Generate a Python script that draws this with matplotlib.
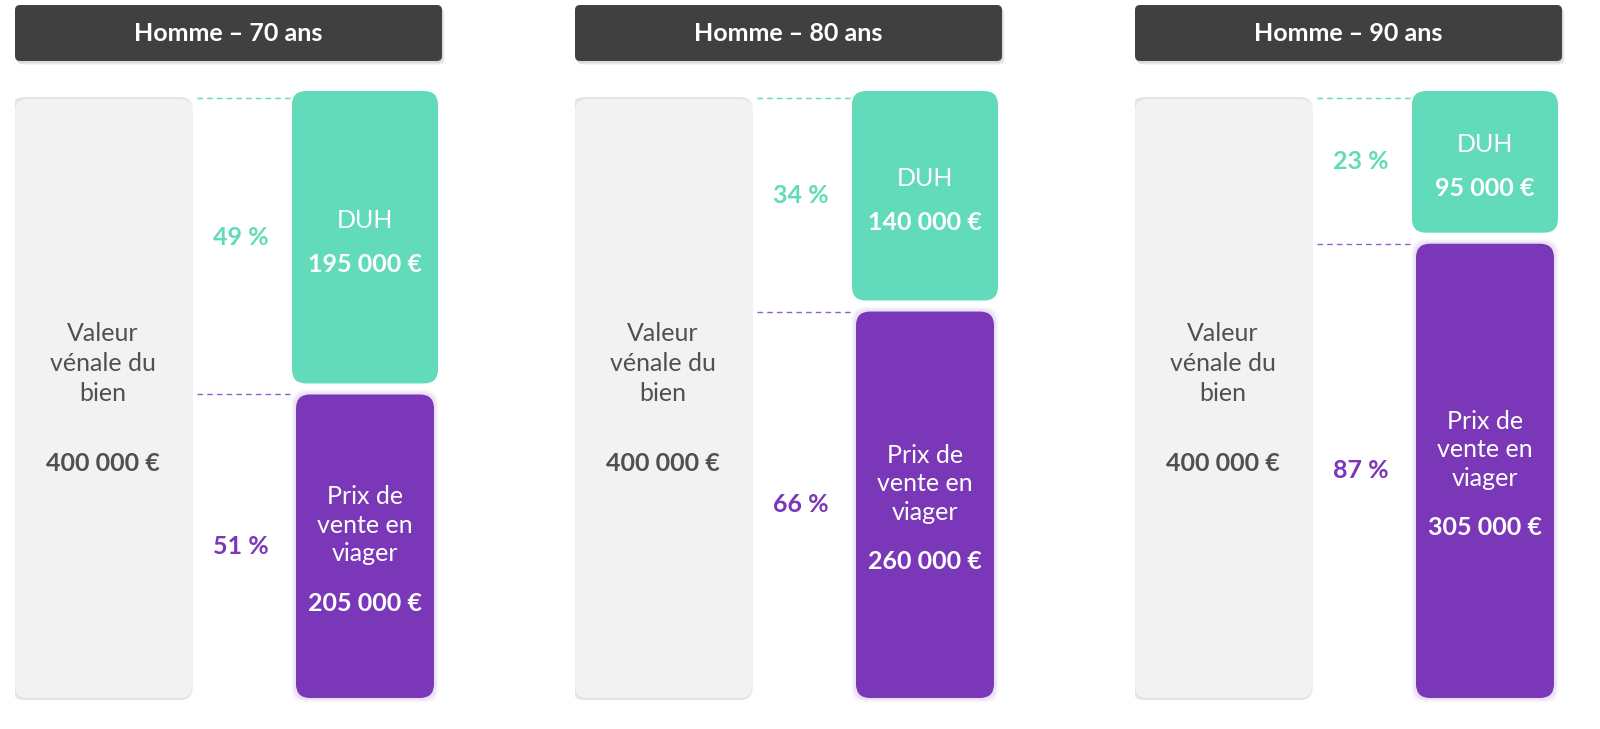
import matplotlib.pyplot as plt
from matplotlib.patches import FancyBboxPatch

# data (k€)
titles = ["Homme – 70 ans", "Homme – 80 ans", "Homme – 90 ans"]
valeur = 400
duh = [195, 140, 95]
viager = [205, 260, 305]
pct_duh = [49, 34, 23]
pct_viager = [51, 66, 87]

GREEN = "#62DBBA"
PURPLE = "#7A38B8"
HEADER = "#404040"
GREY = "#F2F2F2"
TEXT = "#505050"

plt.rcParams["font.family"] = ["Lato", "DejaVu Sans"]

W, H = 1600, 729
fig = plt.figure(figsize=(W / 100, H / 100), dpi=100)


def fmt(v):
    return f"{v} 000 €"


# pixel layout of one panel
top_px, bot_px = 95, 698
u = valeur / (bot_px - top_px)          # value units per pixel
gap = 11 * u
FS = 18


def rbox(ax, x0, y0, w, h, color, r=14, z=2, **kw):
    p = FancyBboxPatch((x0, y0), w, h, boxstyle=f"round,pad=0,rounding_size={r}",
                       mutation_aspect=u, facecolor=color, edgecolor="none", zorder=z, **kw)
    ax.add_patch(p)
    return p


for i in range(3):
    x0 = 15 + 560 * i
    ax = fig.add_axes([x0 / W, 0, 430 / W, 1])
    ax.set_xlim(0, 430)
    ax.set_ylim(-(H - bot_px) * u, valeur + top_px * u)
    ax.axis("off")

    # header
    hy0 = valeur + (top_px - 61) * u
    hy1 = valeur + (top_px - 5) * u
    for k, a in enumerate([0.06, 0.05, 0.04]):
        rbox(ax, 1 + k, hy0 - (2 + k) * u, 427, hy1 - hy0, "black", r=5, z=1, alpha=a)
    rbox(ax, 0, hy0, 427, hy1 - hy0, HEADER, r=5, z=2)
    ax.text(213, (hy0 + hy1) / 2, titles[i], color="white", fontsize=18,
            fontweight="bold", ha="center", va="center", zorder=3)

    # grey bar: valeur vénale
    for k, a in enumerate([0.05, 0.035, 0.02]):
        rbox(ax, -2 - k, -2 * u, 180, valeur, "black", r=12, z=1, alpha=a)
    rbox(ax, 0, 0, 177, valeur - 4 * u, GREY, r=12)
    ax.annotate("Valeur\nvénale du\nbien", (88, valeur / 2), xytext=(0, 33),
                textcoords="offset pixels", ha="center", va="center",
                fontsize=FS, color=TEXT, linespacing=1.35)
    ax.annotate(fmt(valeur), (88, valeur / 2), xytext=(0, -67),
                textcoords="offset pixels", ha="center", va="center",
                fontsize=FS, color=TEXT, fontweight="bold")

    # purple bar: prix de vente en viager
    p_top = viager[i] - gap / 2
    for k, a in enumerate([0.06, 0.04, 0.03, 0.02]):
        rbox(ax, 281 - 2 - k, -2 * u - k * u, 138 + 4 + 2 * k, p_top + 4 * u + 2 * k * u,
             PURPLE, r=14, z=1, alpha=a)
    rbox(ax, 281, 0, 138, p_top, PURPLE, r=14)
    pc = p_top / 2
    ax.annotate("Prix de\nvente en\nviager", (350, pc), xytext=(0, 21),
                textcoords="offset pixels", ha="center", va="center",
                fontsize=FS, color="white", linespacing=1.3)
    ax.annotate(fmt(viager[i]), (350, pc), xytext=(0, -57),
                textcoords="offset pixels", ha="center", va="center",
                fontsize=FS, color="white", fontweight="bold")
    ax.plot([182, 278], [p_top, p_top], ls=(0, (4, 3)), color=PURPLE, lw=1, alpha=0.8)
    ax.annotate(f"{pct_viager[i]} %", (226, pc), ha="center", va="center",
                fontsize=FS, color=PURPLE, fontweight="bold")

    # green bar: DUH
    g_bot = viager[i] + gap / 2
    g_top = valeur + 4 * u
    rbox(ax, 277, g_bot, 146, g_top - g_bot, GREEN, r=14)
    gc = (g_bot + g_top) / 2
    ax.annotate("DUH", (350, gc), xytext=(0, 17), textcoords="offset pixels",
                ha="center", va="center", fontsize=FS, color="white")
    ax.annotate(fmt(duh[i]), (350, gc), xytext=(0, -27), textcoords="offset pixels",
                ha="center", va="center", fontsize=FS, color="white", fontweight="bold")
    ax.plot([182, 277], [valeur - 3 * u, valeur - 3 * u], ls=(0, (4, 3)),
            color=GREEN, lw=1)
    ax.annotate(f"{pct_duh[i]} %", (226, gc), ha="center", va="center",
                fontsize=FS, color=GREEN, fontweight="bold")

fig.savefig("out.png", dpi=100, facecolor="white")
